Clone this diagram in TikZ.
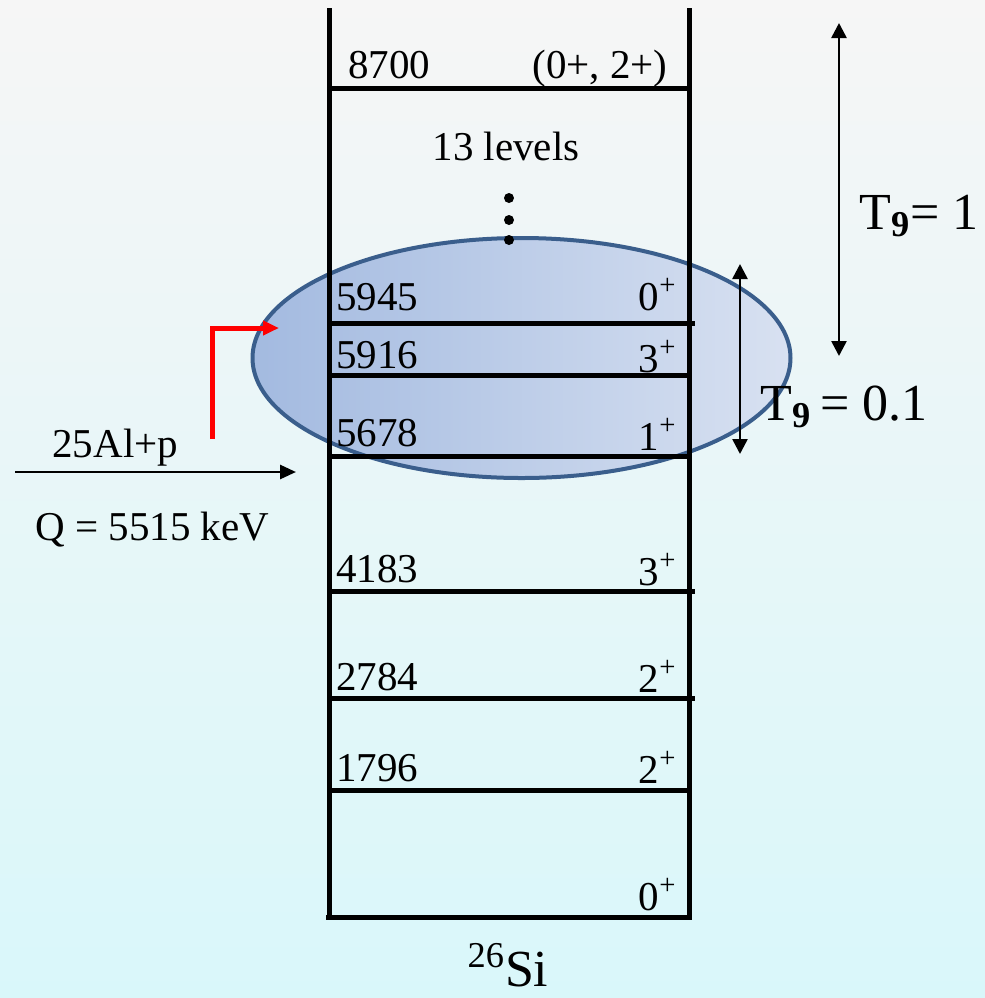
\documentclass[tikz,border=0pt]{standalone}
\usepackage{fontspec}
\setmainfont{Liberation Serif}
\usetikzlibrary{arrows.meta}
\definecolor{BgTop}{HTML}{F6F6F6}
\definecolor{BgMid}{HTML}{EEF5F5}
\definecolor{BgBottom}{HTML}{D9F7FA}
\definecolor{BlobLeft}{HTML}{A3BAE0}
\definecolor{BlobRight}{HTML}{D8E1F1}
\definecolor{BlobEdge}{HTML}{3A5E8C}

\begin{document}
\begin{tikzpicture}[x=0.5pt,y=-0.5pt,
    levelline/.style={line width=2.5pt},
    lbl/.style={inner sep=0pt,font=\fontsize{20.5}{24}\selectfont},
    tlbl/.style={inner sep=0pt,font=\fontsize{26}{30}\selectfont},
    tarrow/.style={line width=1.3pt,{Triangle[length=7.5pt,width=7.5pt]}-{Triangle[length=7.5pt,width=7.5pt]}}]
  % background
  \shade[top color=BgTop,middle color=BgMid,bottom color=BgBottom] (0,0) rectangle (985,998);
  \useasboundingbox (0,0) rectangle (985,998);

  % resonance region
  \shadedraw[left color=BlobLeft,right color=BlobRight,draw=BlobEdge,line width=2pt]
    (521.5,358) ellipse [x radius=134.5pt,y radius=60pt];

  % level scheme frame
  \draw[levelline] (329,8) -- (329,918);
  \draw[levelline] (689,8) -- (689,918);
  \draw[levelline] (326,917) -- (692,917);
  \draw[levelline] (329,88) -- (689,88);

  \node[lbl,anchor=base west] (e8700) at (348,78) {8700};
  \node[lbl,anchor=base east] (j8700) at (668,78) {(0+, 2+)};
  \node[lbl,anchor=base] (nlev) at (506,160) {13 levels};
  \foreach \yd in {198,220,240}
    \fill (509,\yd) circle (2.5pt);

  \foreach \en/\jp/\yt/\yj/\yl/\xr in {5945/0/310/310/323/695, 5916/3/368/372/375/689,
      5678/1/446/450/456/689, 4183/3/582/585/591/695, 2784/2/690/692/698/695, 1796/2/781/783/790/689}{
    \draw[levelline] (330,\yl) -- (\xr,\yl);
    \node[lbl,anchor=base west] (e\en) at (336,\yt) {\en};
    \node[lbl,anchor=base east] (j\en) at (677,\yj) {\jp\textsuperscript{+}};
  }
  \node[lbl,anchor=base east] (j0) at (677,910) {0\textsuperscript{+}};

  % entrance channel
  \node[lbl,anchor=base west] (chan) at (52,457) {25Al+p};
  \node[lbl,anchor=base west] (qval) at (35,540) {Q = 5515 keV};
  \coordinate (qstart) at (15,472);
  \coordinate (qend) at (296,472);
  \draw[line width=1.4pt,-{Triangle[length=8pt,width=7pt]}] (qstart) -- (qend);
  \coordinate (redfoot) at (212,439);
  \coordinate (redtip) at (279,328);
  \draw[red,line width=2.5pt,-{Triangle[length=8pt,width=7pt]}] (redfoot) |- (redtip);

  % temperature windows
  \coordinate (hiTop) at (839,23);
  \coordinate (hiBot) at (839,356);
  \draw[tarrow] (hiTop) -- (hiBot);
  \node[tlbl,anchor=base west] (thi) at (859,229) {T\textsubscript{\textbf{9}}= 1};
  \coordinate (loTop) at (740,264);
  \coordinate (loBot) at (740,454);
  \draw[tarrow] (loTop) -- (loBot);
  \node[tlbl,anchor=base west] (tlo) at (760,420) {T\textsubscript{\textbf{9}}\,= 0.1};

  \node[tlbl,anchor=base] (nuc) at (508,986) {\textsuperscript{26}Si};
\end{tikzpicture}
\end{document}
